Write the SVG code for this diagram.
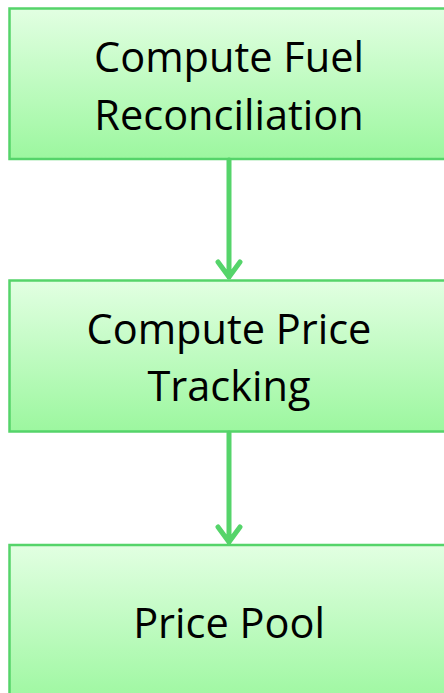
<svg xmlns="http://www.w3.org/2000/svg" width="444" height="693" viewBox="0 0 444 693">
  <defs>
    <linearGradient id="boxFill" x1="0" y1="0" x2="0" y2="1">
      <stop offset="0" stop-color="#e2ffe2"/>
      <stop offset="1" stop-color="#9cf79f"/>
    </linearGradient>
  </defs>
  <style>
    .box { fill: url(#boxFill); stroke: #55d46a; stroke-width: 2.5; }
    .label { font-family: "Open Sans", "Liberation Sans", sans-serif; font-size: 41.5px; fill: #000; text-anchor: middle; }
    .edge { fill: none; stroke: #55d46a; stroke-width: 5; stroke-linecap: round; stroke-linejoin: round; }
  </style>

  <g id="node-fuel">
    <rect class="box" x="9.5" y="8.5" width="440" height="150.5"/>
    <text class="label" x="229" y="72">Compute Fuel</text>
    <text class="label" x="229" y="130">Reconciliation</text>
  </g>

  <g id="node-tracking">
    <rect class="box" x="9.5" y="280.5" width="440" height="151"/>
    <text class="label" x="229" y="344">Compute Price</text>
    <text class="label" x="229" y="401">Tracking</text>
  </g>

  <g id="node-pool">
    <rect class="box" x="9.5" y="545" width="440" height="160"/>
    <text class="label" x="229" y="638">Price Pool</text>
  </g>

  <g id="connectors">
    <path class="edge" d="M229 160 V277 M218 262 L229 277 L240 262"/>
    <path class="edge" d="M229 433 V542 M218 527 L229 542 L240 527"/>
  </g>
</svg>
